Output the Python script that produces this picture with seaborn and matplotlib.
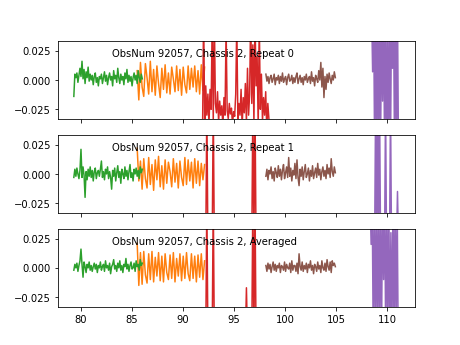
import numpy as np
import matplotlib
matplotlib.use("Agg")
import matplotlib.pyplot as plt
import seaborn as sns

# ---------------- data (values in units of 1e-3) ----------------
panel_labels = ["ObsNum 92057, Chassis 2, Repeat 0",
                "ObsNum 92057, Chassis 2, Repeat 1",
                "ObsNum 92057, Chassis 2, Averaged"]

# x extents of each segment (start, end)
green_x = (79.3, 86.0)
orange_x = (85.5, 92.1)
red_x = (91.9, 98.5)
brown_x = (98.1, 104.9)
purple_x = [(108.45, 111.08), (108.45, 111.08), (108.3, 111.05)]

green_r0 = [-14, 5, 2, 6, -2, 4, 10, 3, 16, 1, 9, -3, 7, 2, 11, -1, 5, 0, 4, -4, 3, 6, -2, 2,
            -5, 3, 1, 5, -3, 2, 7, -1, 4, -4, 2, 6, 0, 3, -5, 8, 1, 4, -2, 10, 2, -3, 5, 0,
            3, -4, 6, 1, 9, -2, 4, -1, 3, -5, 2, 6, 0, 4, -3, 8, 2, -2, 5, 1]
orange_r0 = [8, -17, 15, -6, -14, 14, 2, -12, 16, -10, 9, -13, 12, -3, -15, 10, -8, 13, -11, 6,
             -12, 11, 1, -10, 12, -9, 9, -13, 11, -4, -11, 12, -8, 10, -6, 12, -10, 8, -12, 13,
             -9, 11]
red_r0 = [-45, 60, -40, -5, -30, -12, -38, -8, -25, 50, -35, 55, -20, -28, -10, -36, -18, -30,
          -22, -40, -15, -30, 45, -26, -33, -20, -29, -24, -38, -27, -31, -12, 50, -35, -20,
          -30, -8, -40, -15, -28, -3, -36, 10, -30, -12, 60, -20, 30, -38, 55, -5, 20, -40, 50,
          -25, 5, -35, -15, -30, -10, -42, -20, -33, -45]
brown_r0 = [5, -1, 3, -3, 2, 4, -2, 1, 5, -4, 2, 0, 4, -3, 3, -1, 6, -2, 1, 3, -4, 2, 5, -1,
            0, 4, -3, 2, -2, 3, 6, -3, 1, 4, -2, 2, -4, 3, 0, 5, -2, 1, 3, -3, 7, -1, 2, -5,
            4, 1, -2, 8, 0, 15, -6, 10, -15, 3, -8, 5, -2, 6, 1, -3, 4, 0, 7, 2]
purple_r0 = [60, 7, 60, -60, 60, -60, 60, -60, 60, -60, 60, -18, 60, -60, 60, -60, 50, -60,
             60, -60, 60, 10, 60, -60, 60, -60, 60, -60]

green_r1 = [-3, 4, -2, 5, 0, -4, 3, 21, -3, 6, -1, -20, 2, -5, 4, -2, 6, -3, 3, -6, 2, 5, -4,
            1, 3, -2, 4, 11, -3, 2, -5, 4, 0, 6, -4, 2, -3, -13, 3, -2, 5, -6, 1, 7, -3, 2, -8,
            4, 0, -4, 6, -2, 3, -5, 2, 8, -3, 1, -6, 4, 0, 5, -2, 3, -4, 6, 1, 4]
orange_r1 = [22, -6, 11, -13, 13, -4, -12, 14, -9, 8, -14, 12, -5, 15, -11, 7, -13, 12, -8, 10,
             2, -11, 13, -7, 9, -12, 11, -3, -10, 14, -9, 12, -6, 10, -12, 13, -8, 11, -10, 9,
             -5, 8]
red_r1 = [-60, -60, -60, -60, 60, -60, -60, -60, -60, -60, 60, -60, -60, -60, -60, -60, -60,
          -60, -60, -60, -60, -60, -60, -60, -60, -60, -60, -60, -60, -60, -60, -60, -60, -60,
          -60, -60, -60, -60, -60, -60, -60, -60, -60, -60, -60, -60, -60, 60, -60, 60, -60,
          -60, -60, -60, -60, -60, -60, -60, -60, -60, -60, -60, -60, -60]
brown_r1 = [-2, 4, -5, 3, 0, 6, -4, 2, -6, 5, 1, -3, 7, -2, 4, -5, 3, 8, -4, 1, 6, -3, 14, -2,
            5, -6, 3, -1, 9, -4, 12, -3, -10, 4, -2, 6, -5, 2, 8, -3, 0, 5, -6, 3, -2, 7, -4,
            1, 5, -3, 9, -1, 4, -5, 2, 6, -2, 3, -4, 8, 0, 5, -3, 13, 2, -2, 6, 1]
purple_r1 = [-60, -60, -60, -60, 60, -60, 60, -60, 60, -60, -60, -60, -60, -60, 60, -60, -60,
             -60, -60, 60, -60, -60, -60, -60, -60, -60, -15, -60]

green_r2 = [-2, 3, 0, 4, -3, 2, 6, 16, 3, -8, 5, 1, -4, 3, 0, 5, -2, 2, -3, 1, 4, -1, 3, -4,
            2, 0, 5, -2, 1, 3, -3, 6, 0, 2, -2, 4, -5, 1, 3, 7, -1, 2, -3, 4, 0, 6, -2, 2, -4,
            3, 1, 8, -1, 3, -3, 2, 5, -1, 0, 4, -3, 6, 1, 3, -2, 7, 2, 4]
orange_r2 = [21, -15, 13, -14, 14, -6, -13, 12, -10, 14, -12, 9, -7, 13, -11, 10, -12, 12, -4,
             -10, 11, -9, 13, -12, 8, -7, 12, -11, 10, -9, 13, -5, -11, 12, -9, 10, -12, 11, -8,
             12, -10, 6]
red_r2 = [-60, -60, -60, -60, 60, -60, -60, -60, -60, -60, 60, -60, -60, -60, -60, -60, -60,
          -60, -60, -60, -60, -60, -60, -60, -60, -60, -60, -60, -60, -60, -60, -60, -60, -60,
          -60, -60, -60, -60, -60, -60, -60, -17, -60, -60, -60, -60, -60, 60, -60, 60, -60,
          -60, -60, -60, -60, -60, -60, -60, -60, -60, -60, -60, -60, -60]
brown_r2 = [2, -3, 4, -1, 3, -4, 1, 5, -2, 3, -3, 2, 0, 4, -4, 2, 1, -2, 5, -3, 3, 0, -1, 4,
            -4, 6, -2, 2, 2, -3, 4, -5, 12, 1, -2, 5, -3, 2, -1, 4, -4, 3, 0, 6, -2, 2, -5, 3,
            1, -3, 5, -1, 2, -4, 6, 0, -2, 4, -3, 7, 1, -2, 5, -4, 6, 2, 4, 1]
purple_r2 = [60, 20, 60, -60, 60, -60, 60, -60, 60, -60, 60, -60, 60, -10, 60, -60, 60, -60,
             60, -60, 30, -60, 60, -60, 60, -60, 60, -60]

panels = [
    dict(orange=orange_r0, green=green_r0, red=red_r0, purple=purple_r0, brown=brown_r0),
    dict(orange=orange_r1, green=green_r1, red=red_r1, purple=purple_r1, brown=brown_r1),
    dict(orange=orange_r2, green=green_r2, red=red_r2, purple=purple_r2, brown=brown_r2),
]

colors = {"orange": "tab:orange", "green": "tab:green", "red": "tab:red",
          "purple": "tab:purple", "brown": "tab:brown"}

# ---------------- plot ----------------
fig, axes = plt.subplots(3, 1, sharex=True, figsize=(6.4, 4.8), dpi=72)

for k, (ax, pdata) in enumerate(zip(axes, panels)):
    for name in ["orange", "green", "red", "purple", "brown"]:
        vals = np.asarray(pdata[name], dtype=float) / 1000.0
        if name == "purple":
            x0, x1 = purple_x[k]
        else:
            x0, x1 = {"orange": orange_x, "green": green_x,
                      "red": red_x, "brown": brown_x}[name]
        xs = np.linspace(x0, x1, len(vals))
        sns.lineplot(x=xs, y=vals, ax=ax, color=colors[name], linewidth=1.5,
                     sort=False, estimator=None)
    ax.set_ylim(-0.0334, 0.0334)
    ax.set_yticks([-0.025, 0.0, 0.025])
    ax.text(83, 0.02, panel_labels[k], fontsize=10)

fig.savefig("out.png", dpi=72)
